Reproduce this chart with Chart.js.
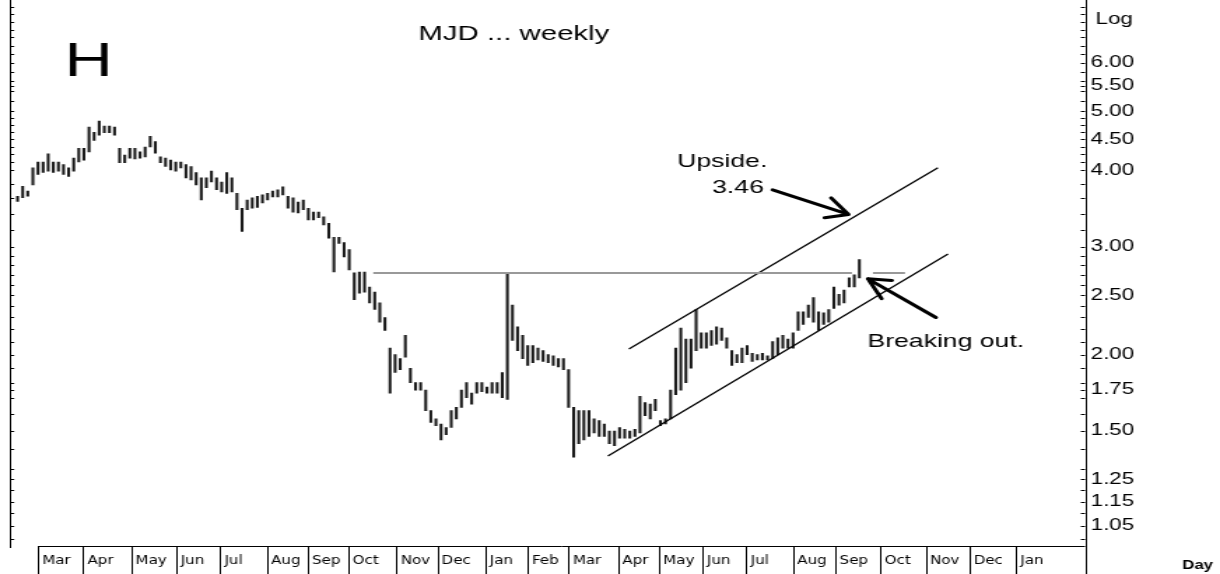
<!DOCTYPE html>
<html>
<head>
<meta charset="utf-8">
<title>MJD weekly</title>
<script src="https://cdn.jsdelivr.net/npm/chart.js@4.4.1/dist/chart.umd.min.js"></script>
<style>
  html, body { margin: 0; padding: 0; background: #fff; overflow: hidden; }
  /* the chart is drawn narrow and stretched sideways, like the original picture */
  #wrap { width: 872px; height: 574px; transform: scaleX(1.3991); transform-origin: 0 0; }
</style>
</head>
<body>
<div id="wrap"><canvas id="myChart" width="872" height="574"></canvas></div>
<script>
// x values are day offsets from 1 Mar of the first year
const firstBarDay = -14;
const barStepDays = 3.5;

// bar highs / lows (price)
const highs = [3.63,3.77,3.70,4.04,4.13,4.13,4.26,4.13,4.13,4.09,
  4.04,4.19,4.35,4.35,4.71,4.62,4.82,4.73,4.73,4.71,
  4.35,4.24,4.35,4.35,4.29,4.37,4.55,4.46,4.21,4.19,
  4.16,4.13,4.13,4.09,4.06,3.97,3.89,3.89,3.99,3.89,
  3.83,3.97,3.89,3.67,3.47,3.58,3.61,3.63,3.65,3.67,
  3.70,3.72,3.76,3.63,3.61,3.55,3.58,3.47,3.42,3.42,
  3.36,3.28,3.11,3.11,3.05,2.97,2.72,2.73,2.73,2.58,
  2.53,2.43,2.30,2.05,2.00,1.97,2.15,1.90,1.80,1.80,
  1.75,1.62,1.57,1.54,1.52,1.62,1.64,1.75,1.80,1.73,
  1.80,1.80,1.77,1.80,1.80,1.87,2.72,2.41,2.22,2.15,
  2.07,2.07,2.05,2.03,2.00,1.99,1.97,1.97,1.89,1.64,
  1.62,1.62,1.62,1.57,1.56,1.54,1.50,1.50,1.52,1.51,
  1.50,1.51,1.71,1.67,1.66,1.69,1.56,1.57,1.75,2.05,
  2.21,2.12,2.12,2.37,2.17,2.17,2.19,2.22,2.21,2.13,
  2.03,2.00,2.05,2.07,2.01,2.00,2.01,1.99,2.10,2.13,
  2.15,2.12,2.17,2.35,2.35,2.41,2.48,2.35,2.34,2.37,
  2.58,2.51,2.55,2.67,2.70,2.86];
const lows = [3.56,3.61,3.63,3.79,3.94,3.97,3.99,3.97,3.99,3.94,
  3.91,3.99,4.13,4.16,4.29,4.48,4.57,4.61,4.61,4.57,
  4.12,4.12,4.19,4.18,4.19,4.21,4.37,4.27,4.12,4.06,
  4.01,3.99,4.04,3.89,3.86,3.79,3.58,3.75,3.83,3.72,
  3.69,3.67,3.69,3.45,3.18,3.45,3.47,3.48,3.54,3.58,
  3.62,3.62,3.65,3.47,3.42,3.41,3.45,3.32,3.32,3.35,
  3.26,3.10,2.73,3.04,2.89,2.75,2.46,2.52,2.53,2.43,
  2.37,2.26,2.19,1.73,1.87,1.89,1.98,1.80,1.75,1.75,
  1.62,1.55,1.53,1.45,1.48,1.52,1.57,1.64,1.70,1.66,
  1.73,1.74,1.73,1.73,1.73,1.70,1.69,2.11,2.03,1.97,
  1.92,1.94,1.96,1.95,1.94,1.92,1.91,1.89,1.64,1.36,
  1.43,1.45,1.47,1.49,1.47,1.47,1.43,1.42,1.46,1.46,
  1.46,1.47,1.49,1.59,1.57,1.62,1.53,1.54,1.57,1.72,
  1.75,1.80,1.90,2.03,2.05,2.05,2.07,2.08,2.11,2.05,
  1.92,1.94,1.94,2.00,1.95,1.96,1.96,1.96,1.97,2.00,
  2.05,2.05,2.05,2.19,2.24,2.30,2.26,2.19,2.24,2.26,
  2.38,2.41,2.43,2.58,2.58,2.67];

// month ticks on the bottom axis
const monthLabels = ['Mar','Apr','May','Jun','Jul','Aug','Sep','Oct','Nov','Dec','Jan','Feb',
  'Mar','Apr','May','Jun','Jul','Aug','Sep','Oct','Nov','Dec','Jan'];
const monthDays = [0,31,64,95,125,157,185,213,246,274,307,336,
  364,398,426,456,486,518,547,578,609,639,671];

// price axis (log)
const priceTicks = [6, 5.5, 5, 4.5, 4, 3, 2.5, 2, 1.75, 1.5, 1.25, 1.15, 1.05];
const minorTicks = [1.0,1.1,1.2,1.3,1.4,1.6,1.7,1.8,1.9,2.1,2.2,2.3,2.4,2.6,2.7,2.8,2.9,
  3.2,3.4,3.6,3.8,4.125,4.25,4.375,4.625,4.75,4.875,5.2,5.4,5.6,5.8,6.2,6.4,6.6,6.8,7.0,7.2,7.4];

// drawn lines: resistance, channel, arrows  (day, price)
const resistancePrice = 2.72;
const resistanceSpans = [[230, 558.4], [572.8, 594.8]];
const lowerChannel = [[391, 1.365], [624.3, 2.92]];
const upperChannel = [[405.4, 2.043], [617.4, 4.04]];
const upsideArrow = { from: [504, 3.72], to: [556, 3.39] };
const breakArrow = { from: [616, 2.30], to: [569.4, 2.66] };

const SX = 1220 / 872;
const FONT = '"Liberation Sans", Arial, sans-serif';

const bars = highs.map((h, i) => ({ x: firstBarDay + i * barStepDays, y: [lows[i], h] }));

function lineSet(pts, color, width) {
  return {
    type: 'line',
    data: pts.map(p => ({ x: p[0], y: p[1] })),
    borderColor: color,
    borderWidth: width,
    pointRadius: 0,
    fill: false,
    order: 0
  };
}

function drawArrow(ctx, x, y, arrow) {
  const x1 = x.getPixelForValue(arrow.from[0]), y1 = y.getPixelForValue(arrow.from[1]);
  const x2 = x.getPixelForValue(arrow.to[0]), y2 = y.getPixelForValue(arrow.to[1]);
  // angle in the stretched (on screen) space
  const ang = Math.atan2(y2 - y1, (x2 - x1) * SX);
  ctx.beginPath();
  ctx.moveTo(x1, y1);
  ctx.lineTo(x2, y2);
  [-0.45, 0.45].forEach(da => {
    const a = ang + Math.PI + da;
    ctx.moveTo(x2, y2);
    ctx.lineTo(x2 + Math.cos(a) * 24 / SX, y2 + Math.sin(a) * 24);
  });
  ctx.stroke();
}

const framePlugin = {
  id: 'frame',
  afterDraw(chart) {
    const { ctx, chartArea: a, scales: { x, y } } = chart;
    const H = chart.height;
    ctx.save();
    ctx.strokeStyle = '#000';
    ctx.lineWidth = 1;
    ctx.beginPath();
    ctx.moveTo(Math.round(a.left) + 0.5, 0);
    ctx.lineTo(Math.round(a.left) + 0.5, a.bottom + 2);
    ctx.moveTo(Math.round(a.right) + 0.5, 0);
    ctx.lineTo(Math.round(a.right) + 0.5, H);
    ctx.moveTo(x.getPixelForValue(monthDays[0]), Math.round(a.bottom) + 0.5);
    ctx.lineTo(a.right, Math.round(a.bottom) + 0.5);
    monthDays.forEach(d => {
      const px = Math.round(x.getPixelForValue(d)) + 0.5;
      ctx.moveTo(px, a.bottom);
      ctx.lineTo(px, H);
    });
    priceTicks.concat(minorTicks).forEach(v => {
      const py = Math.round(y.getPixelForValue(v)) + 0.5;
      if (py < a.top || py > a.bottom) return;
      ctx.moveTo(a.left, py); ctx.lineTo(a.left + 3, py);
      ctx.moveTo(a.right - 3, py); ctx.lineTo(a.right, py);
    });
    ctx.stroke();

    // arrows
    ctx.lineWidth = 3;
    ctx.lineCap = 'round';
    drawArrow(ctx, x, y, upsideArrow);
    drawArrow(ctx, x, y, breakArrow);

    // texts
    ctx.fillStyle = '#000';
    ctx.textAlign = 'left';
    ctx.textBaseline = 'alphabetic';
    ctx.font = '48px ' + FONT;
    ctx.fillText('H', 46, 76);
    ctx.font = '21px ' + FONT;
    ctx.fillText('MJD ... weekly', 299, 40);
    ctx.font = '19px ' + FONT;
    ctx.fillText('Upside.', 484, 167);
    ctx.fillText('3.46', 509, 193);
    ctx.fillText('Breaking out.', 620, 347);
    ctx.font = '16px ' + FONT;
    ctx.fillText('Log', 783, 24);
    ctx.font = 'bold 12px ' + FONT;
    ctx.fillText('Day', 845, 569);
    ctx.restore();
  }
};

const ctx = document.getElementById('myChart').getContext('2d');
new Chart(ctx, {
  type: 'bar',
  data: {
    datasets: [
      lineSet(resistanceSpans[0].map(d => [d, resistancePrice]), '#999', 2),
      lineSet(resistanceSpans[1].map(d => [d, resistancePrice]), '#999', 2),
      lineSet(lowerChannel, '#000', 1.3),
      lineSet(upperChannel, '#000', 1.3),
      {
        type: 'bar',
        data: bars,
        backgroundColor: '#1a1a1a',
        borderWidth: 0,
        barThickness: 1.4,
        grouped: false,
        order: 1
      }
    ]
  },
  options: {
    responsive: false,
    animation: false,
    layout: { padding: { left: 7.15, right: 0, top: 0, bottom: 0 } },
    plugins: { legend: { display: false }, tooltip: { enabled: false } },
    scales: {
      x: {
        type: 'linear',
        bounds: 'data',
        min: -19.2,
        max: 718.3,
        offset: false,
        grid: { display: false, drawTicks: false, offset: false },
        border: { display: false },
        afterBuildTicks: s => { s.ticks = monthDays.map(v => ({ value: v })); },
        afterFit: s => { s.height = 28; s.paddingLeft = 0; s.paddingRight = 0; },
        ticks: {
          autoSkip: false,
          maxRotation: 0,
          align: 'start',
          labelOffset: 3,
          padding: 8,
          color: '#000',
          font: { family: '"DejaVu Sans Condensed", "DejaVu Sans", sans-serif', size: 12 },
          callback: (v, i) => monthLabels[i]
        }
      },
      y: {
        type: 'logarithmic',
        position: 'right',
        bounds: 'data',
        min: 0.973,
        max: 7.6,
        grid: { display: false, drawTicks: false },
        border: { display: false },
        afterBuildTicks: s => { s.ticks = priceTicks.map(v => ({ value: v })); },
        afterFit: s => { s.width = 96.5; s.paddingTop = 0; s.paddingBottom = 0; },
        ticks: {
          autoSkip: false,
          padding: 4,
          color: '#000',
          font: { family: FONT, size: 16 },
          callback: v => Number(v).toFixed(2)
        }
      }
    }
  },
  plugins: [framePlugin]
});
</script>
</body>
</html>
